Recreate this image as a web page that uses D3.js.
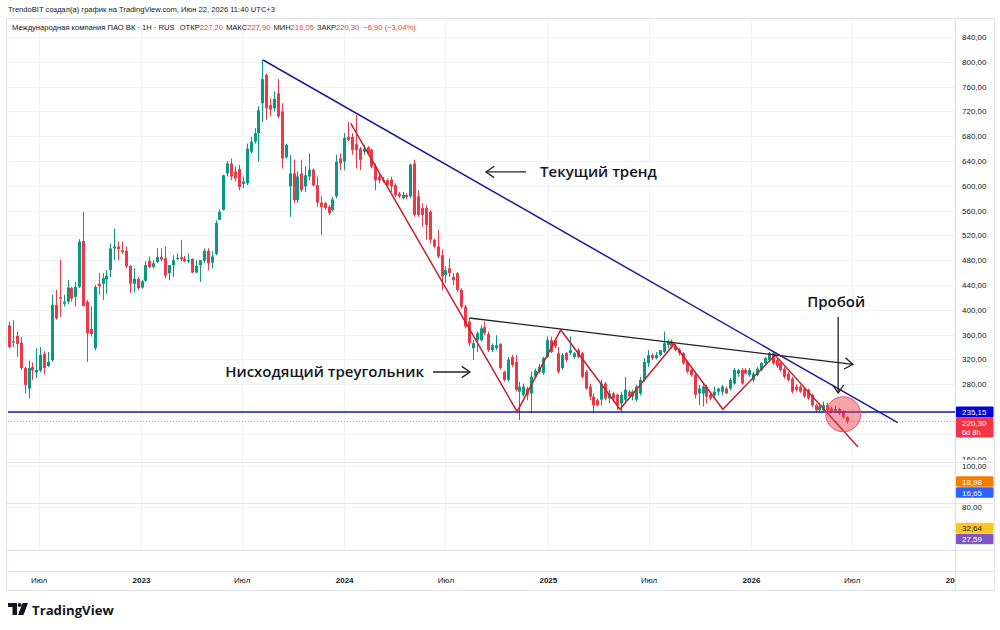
<!DOCTYPE html>
<html>
<head>
<meta charset="utf-8">
<script src="https://d3js.org/d3.v7.min.js"></script>
<style>
  body { margin: 0; background: #fff; }
  svg { display: block; font-family: "Liberation Sans", Arial, sans-serif; }
</style>
</head>
<body>
<svg id="chart" width="1000" height="630"></svg>
<script>
// weekly candles, first bar on Monday 9 May 2022
const firstWeek = "2022-05-09";

const opens = [
  375,347,358,347,306,273,308,299,302,329, 309,319,408,420,410,413,435,421,437,511,
  413,369,338,442,442,449,464,499,502,496, 495,471,442,450,436,447,479,469,477,485,
  483,459,472,482,485,483,478,482,460,472, 479,495,476,490,545,561,620,636,623,627,
  603,604,655,671,685,733,779,730,725,749, 720,646,599,620,577,620,599,615,626,601,
  573,572,566,561,583,644,639,679,679,667, 660,655,662,658,632,615,610,609,610,601,
  587,580,585,583,636,583,564,564,558,513, 502,488,456,467,453,459,432,405,381,338,
  351,351,372,361,335,338,345,300,287,324, 316,268,263,273,265,292,300,298,324,351,
  351,330,306,330,330,324,335,330,300,276, 260,254,255,281,257,265,263,249,255,268,
  260,255,265,287,314,327,322,327,332,343, 349,342,336,330,316,303,295,265,265,276,
  263,262,268,268,273,273,281,297,303,303, 295,287,295,303,314,319,330,319,314,305,
  297,289,276,276,273,271,263,246,238,238, 246,241,236,240,236,227.2
];
const highs = [
  381,383,365,356,308,318,315,338,340,333, 332,424,432,481,424,448,437,445,514,558,
  416,405,440,459,459,464,507,531,510,510, 502,472,467,453,448,478,486,480,499,499,
  502,472,488,491,513,487,491,483,480,480, 499,499,494,544,562,618,640,644,631,634,
  615,668,679,693,728,803,781,741,752,772, 733,668,650,642,623,642,631,652,628,615,
  583,574,569,582,650,652,685,703,685,714, 663,666,664,660,636,620,614,612,615,604,
  590,590,588,636,642,593,572,569,561,515, 529,497,470,483,459,461,435,408,386,351,
  365,375,381,365,346,359,346,302,324,327, 327,284,281,276,300,305,313,324,357,357,
  354,340,330,332,357,332,338,332,303,281, 265,257,287,284,271,268,265,268,292,271,
  271,279,292,322,335,330,332,335,365,352, 352,345,338,332,318,305,298,279,281,279,
  266,276,274,279,276,290,306,305,306,306, 306,300,308,316,324,332,333,322,316,308,
  300,292,280,279,276,273,265,249,249,252, 250,244,245,242,238,227.9
];
const lows = [
  338,340,324,303,265,257,287,290,299,296, 308,316,384,389,405,409,413,405,435,405,
  316,357,335,424,416,426,453,480,480,490, 467,427,428,432,434,445,467,467,475,478,
  451,448,453,480,478,477,475,459,459,445, 475,464,467,488,545,560,615,609,607,593,
  596,601,652,668,639,703,706,712,720,709, 628,644,550,572,572,590,590,609,599,566,
  521,561,553,558,580,625,625,672,650,628, 625,650,650,628,593,604,605,598,590,582,
  580,578,578,580,550,550,534,513,507,499, 483,432,443,453,440,429,402,370,341,319,
  332,349,359,332,332,335,303,284,284,308, 268,222,260,254,233,289,297,295,322,330,
  338,297,303,316,327,321,322,289,271,254, 233,244,246,254,249,252,238,236,249,257,
  254,252,262,284,308,319,320,325,330,338, 337,333,326,311,297,292,257,246,244,249,
  254,256,262,262,265,270,279,292,279,296, 292,284,293,301,311,316,311,306,300,289,
  284,265,268,266,258,255,243,234,235,236, 236,233,233,230,224,216.05
];
const closes = [
  340,349,345,306,279,306,302,303,327,306, 316,408,386,418,413,436,418,437,510,406,
  362,361,437,438,451,455,499,502,498,493, 470,442,450,435,446,472,469,475,485,481,
  455,472,480,484,482,478,480,460,471,480, 495,475,486,540,558,617,636,615,612,598,
  607,660,671,685,722,772,725,723,740,712, 644,666,620,577,615,593,617,626,601,573,
  566,564,556,578,639,636,677,674,658,658, 642,660,652,631,609,609,608,601,599,585,
  583,585,582,634,553,553,553,537,513,502, 486,454,464,459,448,432,405,373,346,346,
  362,370,362,335,343,343,306,287,320,311, 271,276,276,263,292,302,308,322,351,332,
  341,300,327,319,335,330,324,292,273,260, 246,246,281,257,265,257,246,263,271,260,
  268,276,287,316,327,322,327,335,346,349, 341,335,330,314,300,295,263,273,276,260,
  257,268,273,276,265,287,303,303,281,297, 303,297,305,314,322,330,314,309,303,292,
  287,268,271,268,260,257,246,238,244,246, 238,236,240,233,227.2,220.3
];

const priceTicks = [160,200,240,280,320,360,400,440,480,520,560,600,640,680,720,760,800,840];
const timeTickDates = ["2022-07-01","2023-01-01","2023-07-01","2024-01-01","2024-07-01","2025-01-01","2025-07-01","2026-01-01","2026-07-01","2027-01-01"];
const timeTickLabels = ["Июл","2023","Июл","2024","Июл","2025","Июл","2026","Июл","2027"];

// drawings, points as [week index, price]
const levelPrice = 235.15;
const trendLine = [[65.2, 802.9], [228.1, 217.9]];
const zigzag = [[87.7,700.8],[130.4,235.6],[141.6,367.4],[156.8,239.5],[170.7,344.8],[183.2,239.5],[196.6,327.1],[217.9,178.7]];
const triangleTop = [[118.1, 386.8], [216.6, 311.9]];
const breakoutCircle = [214.1, 231.5];
const labelTrend = { text: "Текущий тренд", at: [136.3, 622.3], arrow: [[132.7, 622.3], [122.4, 622.3]] };
const labelTriangle = { text: "Нисходящий треугольник", at: [106.5, 299.7], arrow: [[108.8, 299.7], [118.3, 299.7]] };
const labelBreak = { text: "Пробой", at: [212.3, 412.6], arrow: [[212.8, 388.4], [212.8, 265.8]] };

// indicator panes below the price
const pane2Values = [18.98, 16.65];
const pane2Colors = ["#f57c00", "#2962ff"];
const pane3Values = [32.64, 27.59];
const pane3Colors = ["#f9c623", "#7e57c2"];

const svg = d3.select("#chart");
const plotL = 8, plotR = 955, axisR = 994;
const mainTop = 18, mainBottom = 462, pane2Bottom = 503, pane3Bottom = 550;
const timeTop = 571, timeBottom = 590;
const up = "#089981", down = "#f23645", grid = "#f0f3fa", border = "#e0e3eb", ink = "#131722";
const axisFont = 8;

const parse = d3.timeParse("%Y-%m-%d");
const start = parse(firstWeek);
const dateAt = i => new Date(start.getTime() + i * 7 * 864e5);

const x = d3.scaleTime()
  .domain([new Date(2023, 0, 1), new Date(2026, 0, 1)])
  .range([141, 751]);
const y = d3.scaleLinear().domain([160, 840]).range([458.6, 37]);
const y2 = d3.scaleLinear().domain([0, 100]).range([492, 466]);
const y3 = d3.scaleLinear().domain([30.1, 80]).range([533.7, 507]);

const fmt = d3.formatLocale({decimal: ",", thousands: "\u00a0", grouping: [3], currency: ["", ""], minus: "\u2212"}).format(".2f");
const px = p => x(dateAt(p[0]));
const py = p => y(p[1]);

svg.append("rect").attr("width", 1000).attr("height", 630).attr("fill", "#fff");

// header
svg.append("text").attr("x", 8).attr("y", 11.5)
  .attr("font-size", 7.6).attr("fill", ink)
  .text("TrendoBIT создал(а) график на TradingView.com, Июн 22, 2026 11:40 UTC+3");

const defs = svg.append("defs");
defs.append("clipPath").attr("id", "mainClip").append("rect")
  .attr("x", plotL).attr("y", mainTop).attr("width", plotR - plotL).attr("height", mainBottom - mainTop);
defs.append("clipPath").attr("id", "timeClip").append("rect")
  .attr("x", plotL).attr("y", timeTop).attr("width", plotR - plotL).attr("height", timeBottom - timeTop);
defs.append("clipPath").attr("id", "axisClip").append("rect")
  .attr("x", 0).attr("y", mainTop).attr("width", axisR - plotR).attr("height", mainBottom - mainTop - 2);

// grid
const tickDates = timeTickDates.map(parse);
const gGrid = svg.append("g");
gGrid.selectAll("line.v").data(tickDates.filter(d => x(d) < plotR)).join("line")
  .attr("x1", d => Math.round(x(d)) + 0.5).attr("x2", d => Math.round(x(d)) + 0.5)
  .attr("y1", mainTop).attr("y2", pane3Bottom)
  .attr("stroke", grid);
gGrid.selectAll("line.h").data(priceTicks).join("line")
  .attr("x1", plotL).attr("x2", plotR)
  .attr("y1", d => Math.round(y(d)) + 0.5).attr("y2", d => Math.round(y(d)) + 0.5)
  .attr("stroke", grid);
[y2(100), y3(80)].forEach(v => {
  gGrid.append("line").attr("x1", plotL).attr("x2", plotR)
    .attr("y1", Math.round(v) + 0.5).attr("y2", Math.round(v) + 0.5).attr("stroke", grid);
});

// candles
const gMain = svg.append("g").attr("clip-path", "url(#mainClip)");
const idx = d3.range(opens.length);
const colorOf = i => closes[i] >= opens[i] ? up : down;
const cx = i => Math.round(x(dateAt(i)));
gMain.append("g").selectAll("line").data(idx).join("line")
  .attr("x1", i => cx(i) + 0.5).attr("x2", i => cx(i) + 0.5)
  .attr("y1", i => y(highs[i])).attr("y2", i => y(lows[i]))
  .attr("stroke", colorOf).attr("stroke-width", 1);
gMain.append("g").selectAll("rect").data(idx).join("rect")
  .attr("x", i => cx(i) - 1).attr("width", 3)
  .attr("y", i => y(Math.max(opens[i], closes[i])))
  .attr("height", i => Math.max(1, Math.abs(y(opens[i]) - y(closes[i]))))
  .attr("fill", colorOf);

// last price line and level
const last = opens.length - 1;
gMain.append("line").attr("x1", plotL).attr("x2", plotR)
  .attr("y1", Math.round(y(closes[last])) + 0.5).attr("y2", Math.round(y(closes[last])) + 0.5)
  .attr("stroke", "#c9a3a7").attr("stroke-dasharray", "1,2");
gMain.append("line").attr("x1", plotL).attr("x2", plotR)
  .attr("y1", y(levelPrice)).attr("y2", y(levelPrice))
  .attr("stroke", "#1212c4").attr("stroke-width", 1.6);

const line = d3.line().x(px).y(py);
gMain.append("path").attr("d", line(trendLine)).attr("fill", "none")
  .attr("stroke", "#1a1aa6").attr("stroke-width", 1.5);
gMain.append("path").attr("d", line(zigzag)).attr("fill", "none")
  .attr("stroke", "#c8202a").attr("stroke-width", 1.5);
gMain.append("path").attr("d", line(triangleTop)).attr("fill", "none")
  .attr("stroke", "#222").attr("stroke-width", 1.3);

gMain.append("circle").attr("cx", px(breakoutCircle)).attr("cy", py(breakoutCircle)).attr("r", 17.5)
  .attr("fill", "rgba(242,54,69,0.45)").attr("stroke", "#e8525d").attr("stroke-width", 1);

function chevron(g, from, to, len, color) {
  const x0 = px(from), y0 = py(from), x1 = px(to), y1 = py(to);
  const a = Math.atan2(y1 - y0, x1 - x0), s = 0.6;
  const p = [
    [x1 - len * Math.cos(a - s), y1 - len * Math.sin(a - s)],
    [x1, y1],
    [x1 - len * Math.cos(a + s), y1 - len * Math.sin(a + s)]
  ];
  g.append("path").attr("d", d3.line()(p)).attr("fill", "none")
    .attr("stroke", color).attr("stroke-width", 1.3);
}
chevron(gMain, triangleTop[0], triangleTop[1], 10, "#222");

// annotations
const gNote = svg.append("g").attr("clip-path", "url(#mainClip)");
function note(lbl, anchor) {
  gNote.append("text").attr("x", px(lbl.at)).attr("y", py(lbl.at))
    .attr("dy", "0.35em").attr("text-anchor", anchor)
    .attr("font-family", "'Open Sans', sans-serif").attr("font-size", 15)
    .attr("font-weight", 600).attr("fill", ink)
    .text(lbl.text);
  gNote.append("path").attr("d", line(lbl.arrow)).attr("stroke", "#222").attr("stroke-width", 1.3);
  chevron(gNote, lbl.arrow[0], lbl.arrow[1], 10, "#222");
}
note(labelTrend, "start");
note(labelTriangle, "end");
note(labelBreak, "middle");

// legend
const change = closes[last] - closes[last - 1];
const pct = change / closes[last - 1] * 100;
const legend = svg.append("text").attr("x", 12).attr("y", 30)
  .attr("font-size", 7.6).attr("fill", ink);
legend.append("tspan").text("Международная компания ПАО ВК · 1Н · RUS ");
[["ОТКР", opens[last]], ["МАКС", highs[last]], ["МИН", lows[last]], ["ЗАКР", closes[last]]].forEach(([k, v]) => {
  legend.append("tspan").attr("dx", 3).text(k);
  legend.append("tspan").attr("fill", down).text(fmt(v));
});
legend.append("tspan").attr("dx", 4).attr("fill", down)
  .text(fmt(change) + " (" + fmt(pct) + "%)");

// frame and pane separators
const gFrame = svg.append("g").attr("fill", "none").attr("stroke", border);
gFrame.append("rect").attr("x", 6.5).attr("y", 18.5).attr("width", axisR - 6).attr("height", timeBottom - 18);
gFrame.append("line").attr("x1", plotR + 0.5).attr("x2", plotR + 0.5).attr("y1", 18).attr("y2", timeBottom);
[mainBottom, pane2Bottom, pane3Bottom, timeTop].forEach(v => {
  gFrame.append("line").attr("x1", 7).attr("x2", axisR).attr("y1", v + 0.5).attr("y2", v + 0.5);
});

// price axis
const yLevel = y(levelPrice);
const boxes = [
  { top: yLevel - 5.5, h: 11, bg: "#0000d8", lines: [fmt(levelPrice)] },
  { top: yLevel + 5.5, h: 20, bg: down, lines: [fmt(closes[last]), "6d 8h"] }
];

const priceAxis = d3.axisRight(y).tickValues(priceTicks.filter(v => {
  const t = y(v);
  return !boxes.some(b => t > b.top - 4 && t < b.top + b.h + 4);
})).tickFormat(fmt).tickSize(0).tickPadding(7);
const gAxis = svg.append("g").attr("transform", `translate(${plotR},0)`)
  .attr("clip-path", "url(#axisClip)").call(priceAxis);
gAxis.select(".domain").remove();
gAxis.selectAll("text").attr("font-size", axisFont).attr("fill", ink)
  .attr("font-family", "'Liberation Sans', Arial, sans-serif");

function drawBoxes(list) {
  list.forEach(b => {
    svg.append("rect").attr("x", plotR + 1).attr("y", b.top).attr("width", axisR - plotR - 1.5)
      .attr("height", b.h).attr("fill", b.bg).attr("rx", 1);
    b.lines.forEach((t, k) => {
      svg.append("text").attr("x", plotR + 7).attr("y", b.top + 8.5 + k * 9)
        .attr("font-size", k ? 7.4 : axisFont).attr("fill", b.dark ? ink : "#fff").text(t);
    });
  });
}
drawBoxes(boxes);

// indicator pane axes
[[y2, 100], [y3, 80]].forEach(([s, v]) => {
  svg.append("text").attr("x", plotR + 7).attr("y", s(v) + 2.8)
    .attr("font-size", axisFont).attr("fill", ink).text(fmt(v));
});

function stackLabels(scale, values, colors, darkFirst) {
  const h = 11;
  const c = values.map(v => scale(v));
  for (let k = 1; k < c.length; k++) {
    if (c[k] - c[k - 1] < h) {
      const m = (c[k] + c[k - 1]) / 2;
      c[k - 1] = m - h / 2; c[k] = m + h / 2;
    }
  }
  drawBoxes(values.map((v, k) => ({
    top: c[k] - h / 2, h: h - 0.5, bg: colors[k], lines: [fmt(v)], dark: darkFirst && k === 0
  })));
}
stackLabels(y2, pane2Values, pane2Colors, false);
stackLabels(y3, pane3Values, pane3Colors, true);

// time axis
const timeAxis = d3.axisBottom(x).tickValues(tickDates)
  .tickFormat((d, k) => timeTickLabels[k]).tickSize(0).tickPadding(0);
const gTime = svg.append("g").attr("clip-path", "url(#timeClip)")
  .append("g").attr("transform", `translate(0,${timeTop + 6})`).call(timeAxis);
gTime.select(".domain").remove();
gTime.selectAll("text").attr("font-size", 8).attr("fill", ink)
  .attr("font-family", "'Liberation Sans', Arial, sans-serif")
  .attr("font-weight", (d, k) => timeTickLabels[k] === "Июл" ? 400 : 700);

// logo
const logo = svg.append("g").attr("fill", ink);
logo.append("path").attr("d", "M8,603 H17 V615 H12.5 V607 H8 Z");
logo.append("circle").attr("cx", 19.6).attr("cy", 605).attr("r", 2);
logo.append("path").attr("d", "M22.5,603 H28 L23.5,615 H18 Z");
logo.append("text").attr("x", 32).attr("y", 614.5).attr("font-size", 13.2)
  .attr("font-weight", 700).attr("font-family", "'Open Sans', sans-serif").text("TradingView");
</script>
</body>
</html>
